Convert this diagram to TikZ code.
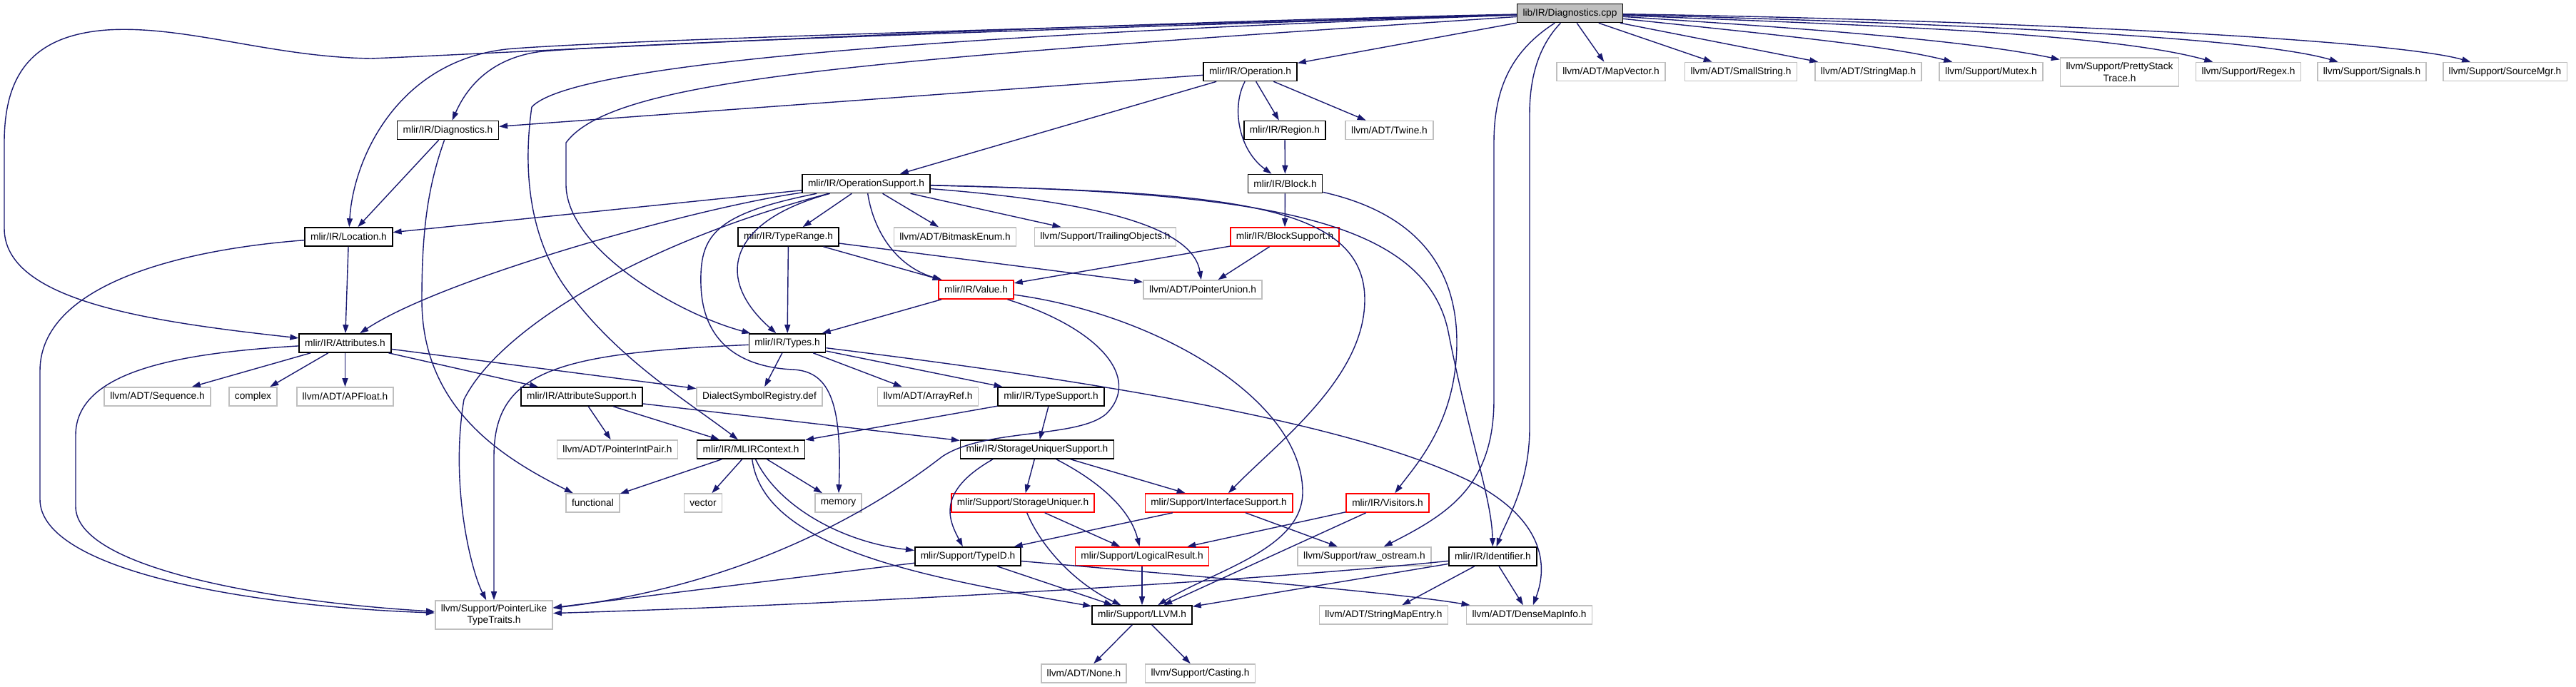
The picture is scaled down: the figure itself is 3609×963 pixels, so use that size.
\documentclass[tikz,border=0pt]{standalone}
\usepackage{fontspec}
\setmainfont{Liberation Sans}
\usetikzlibrary{arrows.meta}
\definecolor{edgeblue}{RGB}{25,25,112}
\definecolor{grey75}{RGB}{191,191,191}
\tikzset{
  box/.style={draw,rectangle,inner xsep=4pt,inner ysep=0pt,minimum height=13pt,
    line width=0.8pt,font=\fontsize{6.85}{8.2}\selectfont},
  inc/.style={box,draw=black},
  ext/.style={box,draw=grey75},
  trunc/.style={box,draw=red},
  rootfile/.style={box,draw=black,fill=grey75},
  twoline/.style={align=center,minimum height=20pt},
  dep/.style={draw=edgeblue,line width=0.7pt,-{Triangle[length=6pt,width=4pt]}}
}
\begin{document}
\begin{tikzpicture}[x=0.5pt,y=-0.5pt]
\useasboundingbox(0,0)rectangle(3609,963);
\node[rootfile](cpp)at(2199.5,18.5){lib/IR/Diagnostics.cpp};
\node[inc](oper)at(1751.5,100.5){mlir/IR/Operation.h};
\node[ext](mapvec)at(2257,100.5){llvm/ADT/MapVector.h};
\node[ext](smallstr)at(2439,100.5){llvm/ADT/SmallString.h};
\node[ext](strmap)at(2617.5,100.5){llvm/ADT/StringMap.h};
\node[ext](mutex)at(2789.5,100.5){llvm/Support/Mutex.h};
\node[ext,twoline](pst)at(2969.5,101){llvm/Support/PrettyStack\\Trace.h};
\node[ext](regex)at(3150,100.5){llvm/Support/Regex.h};
\node[ext](signals)at(3323,100.5){llvm/Support/Signals.h};
\node[ext](srcmgr)at(3509.5,100.5){llvm/Support/SourceMgr.h};
\node[inc](diag)at(627.5,182.5){mlir/IR/Diagnostics.h};
\node[inc](region)at(1800,182.5){mlir/IR/Region.h};
\node[ext](twine)at(1946.5,182.5){llvm/ADT/Twine.h};
\node[inc](opsup)at(1213.5,257.5){mlir/IR/OperationSupport.h};
\node[inc](block)at(1800.5,257.5){mlir/IR/Block.h};
\node[inc](loc)at(488.5,332){mlir/IR/Location.h};
\node[inc](tyrange)at(1104.5,332){mlir/IR/TypeRange.h};
\node[ext](bitmask)at(1338,332){llvm/ADT/BitmaskEnum.h};
\node[ext](trailing)at(1548.5,332){llvm/Support/TrailingObjects.h};
\node[trunc](blksup)at(1800,332){mlir/IR/BlockSupport.h};
\node[trunc](value)at(1367.5,406){mlir/IR/Value.h};
\node[ext](ptrunion)at(1685,406){llvm/ADT/PointerUnion.h};
\node[inc](attr)at(483.5,481){mlir/IR/Attributes.h};
\node[inc](types)at(1103,481){mlir/IR/Types.h};
\node[ext](seq)at(220.5,556){llvm/ADT/Sequence.h};
\node[ext](cplx)at(354.5,556){complex};
\node[ext](apfloat)at(483.5,556){llvm/ADT/APFloat.h};
\node[inc](attrsup)at(815,556){mlir/IR/AttributeSupport.h};
\node[ext](dialreg)at(1064,556){DialectSymbolRegistry.def};
\node[ext](arrayref)at(1300,556){llvm/ADT/ArrayRef.h};
\node[inc](tysup)at(1472.5,556){mlir/IR/TypeSupport.h};
\node[ext](ptrint)at(865,630){llvm/ADT/PointerIntPair.h};
\node[inc](ctx)at(1052,630){mlir/IR/MLIRContext.h};
\node[inc](susup)at(1453,630){mlir/IR/StorageUniquerSupport.h};
\node[ext](functional)at(830.5,705){functional};
\node[ext](vector)at(985,705){vector};
\node[ext](memory)at(1174.5,705){memory};
\node[trunc](storuniq)at(1433,705){mlir/Support/StorageUniquer.h};
\node[trunc](ifsup)at(1707.5,705){mlir/Support/InterfaceSupport.h};
\node[trunc](visitors)at(1944,705){mlir/IR/Visitors.h};
\node[inc](typeid)at(1356,780){mlir/Support/TypeID.h};
\node[trunc](logres)at(1600,780){mlir/Support/LogicalResult.h};
\node[ext](rawos)at(1911.5,780){llvm/Support/raw\_ostream.h};
\node[inc](ident)at(2091.5,780){mlir/IR/Identifier.h};
\node[ext,twoline](plt)at(692,862){llvm/Support/PointerLike\\TypeTraits.h};
\node[inc](llvm)at(1600,862){mlir/Support/LLVM.h};
\node[ext](smentry)at(1938.5,862){llvm/ADT/StringMapEntry.h};
\node[ext](dmi)at(2142.5,862){llvm/ADT/DenseMapInfo.h};
\node[ext](nonehdr)at(1518.5,944){llvm/ADT/None.h};
\node[ext](casting)at(1681.5,944){llvm/Support/Casting.h};

\draw[dep](cpp)--(oper);
\draw[dep](cpp)--(mapvec);
\draw[dep](cpp)--(smallstr);
\draw[dep](cpp)--(strmap);
\draw[dep](cpp)..controls(2500,50)and(2650,65)..(mutex);
\draw[dep](cpp)..controls(2500,38)and(2750,55)..(pst);
\draw[dep](cpp)..controls(2600,35)and(2950,45)..(regex);
\draw[dep](cpp)..controls(2700,32)and(3150,50)..(signals);
\draw[dep](cpp)..controls(2800,28)and(3350,55)..(srcmgr);
\draw[dep](cpp)..controls(1500,40)and(900,60)..(760,72)..controls(690,80)and(655,120)..(diag);
\draw[dep](cpp)..controls(1500,38)and(900,55)..(720,68)..controls(560,80)and(495,220)..(loc);
\draw[dep](cpp)..controls(1400,35)and(700,75)..(520,82)..controls(380,80)and(260,35)..(150,42)
  ..controls(40,50)and(6,110)..(6,200)--(6,320)..controls(6,420)and(200,450)..(attr);
\draw[dep](cpp)..controls(1300,50)and(800,90)..(745,150)..controls(735,220)and(735,320)..(790,400)
  ..controls(860,500)and(960,560)..(ctx);
\draw[dep](cpp)..controls(1200,85)and(860,110)..(793,200)--(793,260)..controls(795,350)and(950,440)..(types);
\draw[dep](cpp)..controls(2160,60)and(2143,100)..(2143,160)--(2143,600)..controls(2143,680)and(2110,730)..(ident);
\draw[dep](cpp)..controls(2120,70)and(2093,120)..(2093,200)--(2093,560)..controls(2093,680)and(2030,720)..(rawos);

\draw[dep](oper)--(diag);
\draw[dep](oper)--(opsup);
\draw[dep](oper)--(region);
\draw[dep](oper)..controls(1725,150)and(1735,210)..(block);
\draw[dep](oper)--(twine);
\draw[dep](region)--(block);
\draw[dep](block)--(blksup);
\draw[dep](block)..controls(1990,300)and(2041,380)..(2041,480)..controls(2041,590)and(1985,650)..(visitors);
\draw[dep](blksup)--(value);
\draw[dep](blksup)--(ptrunion);

\draw[dep](opsup)--(loc);
\draw[dep](opsup)..controls(980,290)and(620,390)..(attr);
\draw[dep](opsup)..controls(900,340)and(700,460)..(650,560)..controls(630,680)and(660,800)..(plt);
\draw[dep](opsup)..controls(1000,300)and(980,330)..(982,400)..controls(985,490)and(1050,515)..(1110,518)
  ..controls(1160,520)and(1180,560)..(memory);
\draw[dep](opsup)..controls(1020,310)and(1000,390)..(types);
\draw[dep](opsup)--(tyrange);
\draw[dep](opsup)..controls(1225,330)and(1260,375)..(value);
\draw[dep](opsup)--(bitmask);
\draw[dep](opsup)--(trailing);
\draw[dep](opsup)..controls(1500,280)and(1670,310)..(ptrunion);
\draw[dep](opsup)..controls(1700,270)and(1912,280)..(1912,420)..controls(1912,530)and(1790,620)..(ifsup);
\draw[dep](opsup)..controls(1750,270)and(2000,300)..(2030,470)..controls(2060,620)and(2090,700)..(ident);

\draw[dep](tyrange)--(types);
\draw[dep](tyrange)--(value);
\draw[dep](tyrange)--(ptrunion);
\draw[dep](value)--(types);
\draw[dep](value)..controls(1540,460)and(1600,530)..(1550,580)..controls(1510,615)and(1380,600)..(1320,640)
  ..controls(1230,710)and(1050,820)..(plt);
\draw[dep](value)..controls(1620,440)and(1825,560)..(1825,690)..controls(1825,770)and(1700,800)..(llvm);

\draw[dep](diag)--(loc);
\draw[dep](diag)..controls(600,260)and(591,320)..(591,420)..controls(591,570)and(700,640)..(functional);
\draw[dep](loc)--(attr);
\draw[dep](loc)..controls(250,350)and(56,400)..(56,520)--(56,700)..controls(56,800)and(350,850)..(plt);
\draw[dep](attr)--(seq);
\draw[dep](attr)--(cplx);
\draw[dep](attr)--(apfloat);
\draw[dep](attr)--(attrsup);
\draw[dep](attr)--(dialreg);
\draw[dep](attr)..controls(250,495)and(106,520)..(106,610)--(106,710)..controls(106,800)and(400,845)..(plt);

\draw[dep](types)--(dialreg);
\draw[dep](types)--(arrayref);
\draw[dep](types)--(tysup);
\draw[dep](types)..controls(1500,530)and(1900,590)..(2070,680)..controls(2160,730)and(2170,790)..(dmi);
\draw[dep](types)..controls(780,495)and(692,520)..(692,640)--(plt);
\draw[dep](attrsup)--(ptrint);
\draw[dep](attrsup)--(ctx);
\draw[dep](attrsup)--(susup);
\draw[dep](tysup)--(ctx);
\draw[dep](tysup)--(susup);

\draw[dep](ctx)--(functional);
\draw[dep](ctx)--(vector);
\draw[dep](ctx)--(memory);
\draw[dep](ctx)..controls(1090,710)and(1180,760)..(typeid);
\draw[dep](ctx)..controls(1070,770)and(1300,810)..(llvm);
\draw[dep](susup)--(storuniq);
\draw[dep]([xshift=-31pt]susup.south)..controls(1310,690)and(1330,730)..(typeid);
\draw[dep](susup)..controls(1550,680)and(1585,720)..(logres);
\draw[dep](susup)--(ifsup);
\draw[dep](storuniq)--(logres);
\draw[dep](storuniq)..controls(1460,770)and(1510,820)..(llvm);
\draw[dep](ifsup)--(typeid);
\draw[dep](ifsup)--(rawos);
\draw[dep](visitors)--(logres);
\draw[dep](visitors)--(llvm);
\draw[dep](logres)--(llvm);
\draw[dep](typeid)--(llvm);
\draw[dep](typeid)--(plt);
\draw[dep](typeid)..controls(1700,810)and(1950,830)..(dmi);
\draw[dep](ident)--(smentry);
\draw[dep](ident)--(dmi);
\draw[dep](ident)--(llvm);
\draw[dep](ident)..controls(1700,820)and(1100,850)..(plt);
\draw[dep](llvm)--(nonehdr);
\draw[dep](llvm)--(casting);
\end{tikzpicture}
\end{document}
